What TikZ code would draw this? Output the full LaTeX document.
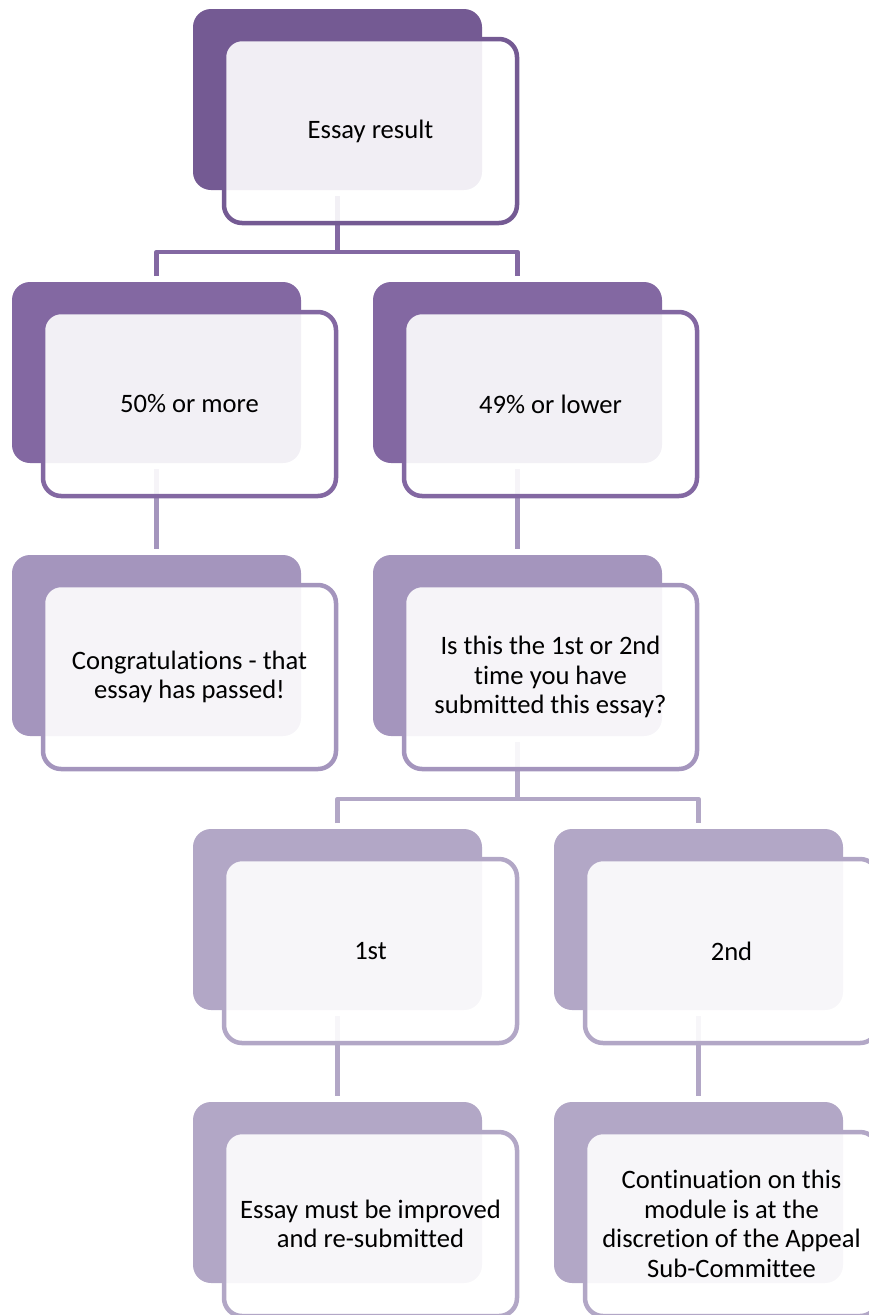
\documentclass[tikz,border=0pt]{standalone}
\usepackage{fontspec}
\setmainfont{Carlito}[RawFeature={-liga;-clig;-calt}]
\pgfdeclarelayer{bg}
\pgfsetlayers{bg,main}
\definecolor{lvA}{RGB}{116,90,147}
\definecolor{lvB}{RGB}{131,104,162}
\definecolor{lvC}{RGB}{164,149,189}
\definecolor{lvD}{RGB}{178,167,198}
\tikzset{
  backbox/.style={rectangle, rounded corners=18pt, inner sep=0pt, outer sep=0pt,
    minimum width=289pt, minimum height=181pt, anchor=north west},
  frontbox/.style={rectangle, rounded corners=18pt, inner sep=0pt, outer sep=0pt,
    minimum width=293pt, minimum height=184pt, line width=4.5pt,
    fill=white, fill opacity=0.9, text opacity=1, text=black, align=center,
    font=\fontsize{26.6}{29.5}\selectfont},
  conn/.style={line width=4.5pt, line join=round}
}
\newcommand\smartnode[5]{%
  \node[backbox, fill=#4] (#1b) at (#2,#3) {};
  \node[frontbox, draw=#4] (#1) at ([xshift=177.5pt,yshift=-122pt]#1b.north west) {#5};
}
\begin{document}
\begin{tikzpicture}[x=1pt,y=-1pt]
\useasboundingbox (0,0) rectangle (869,1315);
\clip (0,0) rectangle (869,1315);
\smartnode{n1}{193}{9}{lvA}{Essay result}
\smartnode{n2}{12}{282}{lvB}{50\% or more}
\smartnode{n3}{373}{282}{lvB}{49\% or lower}
\smartnode{n4}{12}{555}{lvC}{Congratulations - that\\essay has passed!}
\smartnode{n5}{373}{555}{lvC}{Is this the 1st or 2nd\\time you have\\submitted this essay?}
\smartnode{n6}{193}{829}{lvD}{1st}
\smartnode{n7}{554}{829}{lvD}{2nd}
\smartnode{n8}{193}{1102}{lvD}{Essay must be improved\\and re-submitted}
\smartnode{n9}{554}{1102}{lvD}{Continuation on this\\module is at the\\discretion of the Appeal\\Sub-Committee}
\coordinate (h1) at (338,252);
\coordinate (h2) at (518,799);
\begin{pgfonlayer}{bg}
\draw[conn, lvB] ([yshift=-6pt]n1b.south) -- (n1b.south |- h1);
\draw[conn, lvB] ([yshift=6pt]n2b.north) |- (h1) -| ([yshift=6pt]n3b.north);
\draw[conn, lvC] ([yshift=-6pt]n2b.south) -- ([yshift=6pt]n4b.north);
\draw[conn, lvC] ([yshift=-6pt]n3b.south) -- ([yshift=6pt]n5b.north);
\draw[conn, lvD] ([yshift=-6pt]n5b.south) -- (n5b.south |- h2);
\draw[conn, lvD] ([yshift=6pt]n6b.north) |- (h2) -| ([yshift=6pt]n7b.north);
\draw[conn, lvD] ([yshift=-6pt]n6b.south) -- ([yshift=6pt]n8b.north);
\draw[conn, lvD] ([yshift=-6pt]n7b.south) -- ([yshift=6pt]n9b.north);
\end{pgfonlayer}
\end{tikzpicture}
\end{document}
